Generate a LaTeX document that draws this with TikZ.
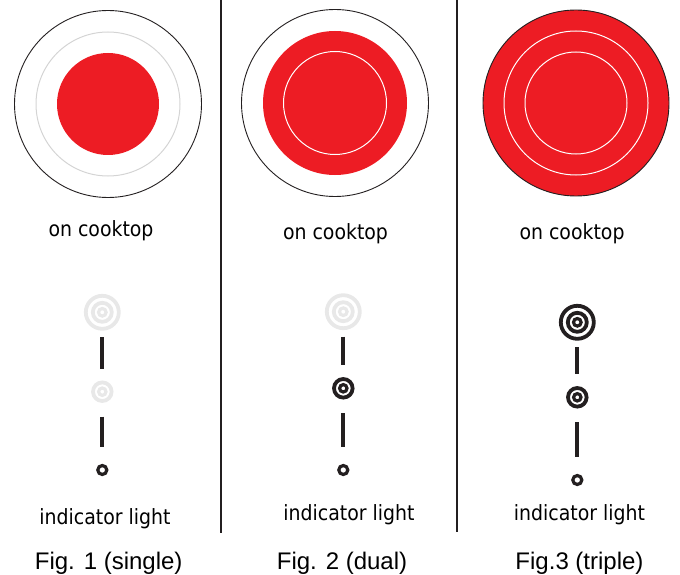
\documentclass[tikz,border=0pt]{standalone}
\usepackage{fontspec}
\setmainfont{Liberation Sans}
\newfontfamily\lblfont[FakeStretch=0.9]{DejaVu Sans}
\definecolor{hobred}{RGB}{237,28,36}
\definecolor{inkdark}{RGB}{35,31,32}
\definecolor{faintgray}{RGB}{232,232,232}
\definecolor{ringgray}{RGB}{212,212,212}

\begin{document}
\begin{tikzpicture}[x=1pt,y=1pt,yscale=-1,xscale=1,
  ringon/.style={draw=inkdark,line width=3.8},
  ringoff/.style={draw=faintgray,line width=3.8},
  lightbar/.style={draw=inkdark,line width=4,shorten <=25pt,shorten >=23pt},
  cooktxt/.style={anchor=base,inner sep=0.75pt,font=\lblfont\fontsize{21}{24}\selectfont},
  figtxt/.style={anchor=base,inner sep=0.75pt,font=\fontsize{24}{28}\selectfont}]
\useasboundingbox (0,0) rectangle (680,575);

%Straight Lines
\draw [inkdark, line width=2]    (220.5,0) -- (220.5,533) ;
%Straight Lines
\draw [inkdark, line width=2]    (456.7,0) -- (456.7,532) ;

%Shape: Circle
\coordinate (burn1) at (108,104);
\draw [inkdark, line width=0.9] (burn1) circle (93.5) ;
\draw [ringgray, line width=1] (burn1) circle (72) ;
\fill [hobred] (burn1) circle (51) ;
%Shape: Circle
\coordinate (burn2) at (335,103);
\draw [inkdark, line width=0.9] (burn2) circle (93.5) ;
\fill [hobred] (burn2) circle (72) ;
\draw [white, line width=1] (burn2) circle (51.5) ;
%Shape: Circle
\coordinate (burn3) at (576,103);
\draw [inkdark, fill=hobred, line width=0.9] (burn3) circle (93) ;
\draw [white, line width=1] (burn3) circle (72) (burn3) circle (51) ;

% Indicator lights
\coordinate (top1) at (102.3,312.3);
\coordinate (mid1) at (102.3,391.7);
\coordinate (low1) at (102.3,470);
\coordinate (top2) at (343.3,311.7);
\coordinate (mid2) at (343.3,388.3);
\coordinate (low2) at (343.3,470);
\coordinate (top3) at (577.3,322.3);
\coordinate (mid3) at (577.3,397.3);
\coordinate (low3) at (577.3,480);

\draw [ringoff] (top1) circle (16.5) (top1) circle (9.5) ;
\draw [ringoff, line width=3.2] (top1) circle (3.8) ;
\draw [ringoff] (mid1) circle (9.3) ;
\draw [ringoff, line width=3.2] (mid1) circle (3.7) ;
\draw [ringon, line width=3.2] (low1) circle (4.5) ;
\draw [ringoff] (top2) circle (16.5) (top2) circle (9.5) ;
\draw [ringoff, line width=3.2] (top2) circle (3.8) ;
\draw [ringon] (mid2) circle (9.3) ;
\draw [ringon, line width=3.2] (mid2) circle (3.7) ;
\draw [ringon, line width=3.2] (low2) circle (4.5) ;
\draw [ringon] (top3) circle (16.5) (top3) circle (9.5) ;
\draw [ringon, line width=3.2] (top3) circle (3.8) ;
\draw [ringon] (mid3) circle (9.3) ;
\draw [ringon, line width=3.2] (mid3) circle (3.7) ;
\draw [ringon, line width=3.2] (low3) circle (4.5) ;

%Straight Lines
\draw [lightbar] (top1) -- (mid1) ;
\draw [lightbar] (mid1) -- (low1) ;
\draw [lightbar] (top2) -- (mid2) ;
\draw [lightbar] (mid2) -- (low2) ;
\draw [lightbar] (top3) -- (mid3) ;
\draw [lightbar] (mid3) -- (low3) ;

% Text Node
\node [cooktxt] (cook1) at (101,236) {on cooktop};
% Text Node
\node [cooktxt] (cook2) at (335.5,239) {on cooktop};
% Text Node
\node [cooktxt] (cook3) at (572,239) {on cooktop};
% Text Node
\node [cooktxt] (ind1) at (105,524) {indicator light};
% Text Node
\node [cooktxt] (ind2) at (349,520) {indicator light};
% Text Node
\node [cooktxt] (ind3) at (579.5,520) {indicator light};
% Text Node
\node [figtxt] (fig1) at (108.7,569) {Fig. 1 (single)};
% Text Node
\node [figtxt] (fig2) at (342,569) {Fig. 2 (dual)};
% Text Node
\node [figtxt] (fig3) at (579.5,569) {Fig.3 (triple)};

\end{tikzpicture}
\end{document}
